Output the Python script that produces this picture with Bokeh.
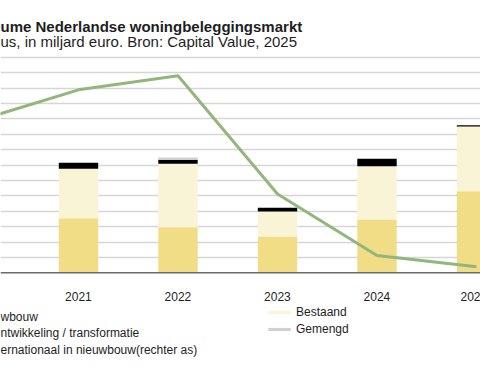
from bokeh.plotting import figure
from bokeh.models import Range1d, FixedTicker, Label, Legend, LegendItem, ColumnDataSource, Span
from bokeh.core.properties import value
from bokeh.embed import file_html
from bokeh.resources import INLINE

# ---- data ----
bar_years = [2021, 2022, 2023, 2024, 2025]
nieuwbouw = [3.55, 2.96, 2.36, 3.46, 5.30]
bestaand = [3.20, 4.12, 1.62, 3.46, 4.20]
herontwikkeling = [0.39, 0.26, 0.24, 0.48, 0.08]
gemengd = [0.00, 0.15, 0.00, 0.00, 0.00]

line_years = [2020, 2021, 2022, 2023, 2024, 2025]
aandeel_internationaal = [49.5, 59.4, 64.0, 25.6, 5.6, 2.0]

tick_years = [2021, 2022, 2023, 2024, 2025]
tick_labels = ["2021", "2022", "2023", "2024", "202"]   # last one is cut at the picture edge
grid_values = list(range(1, 15))

title_text = "ume Nederlandse woningbeleggingsmarkt"
subtitle_text = "us, in miljard euro. Bron: Capital Value, 2025"
legend_left = ["wbouw", "ntwikkeling / transformatie", "ernationaal in nieuwbouw(rechter as)"]

FONT = "Liberation Sans"
TXT = "#1E1E1E"

W, H = 480, 384
PX_PER_UNIT = 15.4
AXIS_Y = 272.3      # canvas pixel of the zero line
X0, STEP = 78.0, 99.5   # canvas x of 2021, pixels per year
y_top = AXIS_Y / PX_PER_UNIT
y_bot = -(H - AXIS_Y) / PX_PER_UNIT
x_start = 2021 - X0 / STEP
x_end = 2021 + (W - X0) / STEP

p = figure(width=W, height=H, output_backend="svg", toolbar_location=None,
           x_range=Range1d(x_start, x_end), y_range=Range1d(y_bot, y_top),
           x_axis_location=None, y_axis_location=None,
           min_border_left=0, min_border_right=0, min_border_top=0, min_border_bottom=0)
p.outline_line_color = None
p.background_fill_color = "white"
p.border_fill_color = "white"
p.extra_y_ranges = {"pct": Range1d(y_bot * 5, y_top * 5)}

p.xgrid.visible = False
p.ygrid.ticker = FixedTicker(ticks=grid_values)
p.ygrid.grid_line_color = "#D6D6D6"
p.ygrid.grid_line_width = 1.5

src = ColumnDataSource(dict(x=bar_years, nieuwbouw=nieuwbouw, bestaand=bestaand,
                            herontwikkeling=herontwikkeling, gemengd=gemengd))
rs = p.vbar_stack(["nieuwbouw", "bestaand", "herontwikkeling", "gemengd"], x="x", width=0.396,
                  source=src, fill_color=["#F0DD85", "#FAF4D7", "#000000", "#D0D0D0"], line_color=None)

# category axis line and tick labels
p.add_layout(Span(location=0, dimension="width", line_color="#6A6A6A", line_width=1.5))
label_offsets = [-13.4] * (len(tick_years) - 1) + [-16]
p.text(x=tick_years, y=[-(296 - AXIS_Y) / PX_PER_UNIT] * len(tick_years), text=tick_labels,
       x_offset=label_offsets, text_font=value(FONT), text_font_size="12px", text_color=TXT,
       text_align="left", text_baseline="alphabetic")

p.line(line_years, aandeel_internationaal, y_range_name="pct", line_width=3, line_color="#93B67D")

# titles
p.add_layout(Label(x=0, y=H - 26.3, x_units="screen", y_units="screen", text=title_text,
                   text_font=FONT, text_font_size="15px", text_font_style="bold",
                   text_color=TXT, text_baseline="alphabetic"))
p.add_layout(Label(x=0, y=H - 41.3, x_units="screen", y_units="screen", text=subtitle_text,
                   text_font=FONT, text_font_size="15px", text_color=TXT, text_baseline="alphabetic"))

# legend, left column (its patches fall outside the picture)
for i, t in enumerate(legend_left):
    p.add_layout(Label(x=0, y=H - 316 - 16.7 * i, x_units="screen", y_units="screen", text=t,
                       text_font=FONT, text_font_size="12px", text_color=TXT, text_baseline="alphabetic"))

legend = Legend(items=[LegendItem(label="Bestaand", renderers=[rs[1]]),
                       LegendItem(label="Gemengd", renderers=[rs[3]])],
                location=(265, H - 337.5), glyph_width=28, glyph_height=4, label_standoff=3,
                label_height=17, spacing=0, padding=0, margin=0,
                label_text_font=FONT, label_text_font_size="12px", label_text_color=TXT,
                border_line_color=None, background_fill_alpha=0)
p.add_layout(legend)

open("out.html", "w").write(file_html(p, INLINE))
